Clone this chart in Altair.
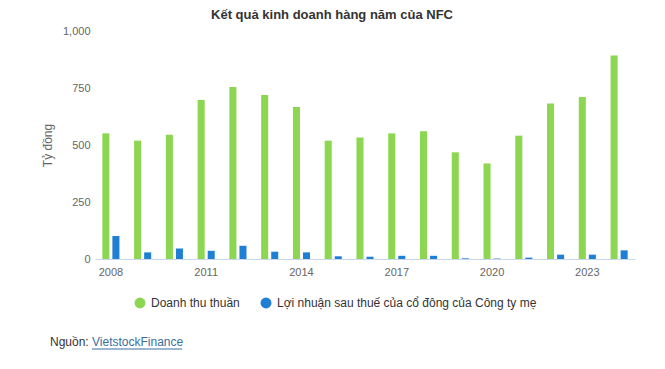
import altair as alt
import pandas as pd

years = list(range(2008, 2025))
doanh_thu = [551, 519, 545, 697, 754, 719, 667, 519, 533, 551, 560, 468, 419, 541, 682, 710, 893]
loi_nhuan = [101, 29, 46, 36, 58, 32, 29, 12, 10, 14, 14, 3, 2, 6, 19, 19, 38]
series = ["Doanh thu thuần", "Lợi nhuận sau thuế của cổ đông của Công ty mẹ"]
colors = ["#8CD651", "#1F7FD4"]

rows = []
for y, a, b in zip(years, doanh_thu, loi_nhuan):
    rows.append({"Năm": str(y), "Chỉ tiêu": series[0], "Giá trị": a})
    rows.append({"Năm": str(y), "Chỉ tiêu": series[1], "Giá trị": b})
df = pd.DataFrame(rows)

FONT = "Liberation Sans"
W, H = 540, 228

bars = alt.Chart(df).mark_bar().encode(
    x=alt.X("Năm:N", sort=[str(y) for y in years],
            scale=alt.Scale(paddingInner=0, paddingOuter=0),
            axis=alt.Axis(title=None, labelAngle=0, ticks=False, domainColor="#CCD6EB",
                          labelColor="#666666", labelFontSize=11, labelFont=FONT, labelPadding=7,
                          labelExpr="(toNumber(datum.value) - 2008) % 3 == 0 ? datum.value : ''")),
    xOffset=alt.XOffset("Chỉ tiêu:N", sort=series,
                        scale=alt.Scale(paddingInner=0.3, paddingOuter=0.73)),
    y=alt.Y("Giá trị:Q", scale=alt.Scale(domain=[0, 1000], nice=False),
            axis=alt.Axis(title="Tỷ đồng", values=[0, 250, 500, 750, 1000], format=",.0f",
                          grid=False, domain=False, ticks=False, labelColor="#666666",
                          labelFontSize=11, labelFont=FONT, labelPadding=5,
                          titleColor="#666666", titleFontSize=12, titleFont=FONT,
                          titleFontWeight="normal", titlePadding=8)),
    color=alt.Color("Chỉ tiêu:N", sort=series,
                    scale=alt.Scale(domain=series, range=colors),
                    legend=alt.Legend(title=None, orient="none", direction="horizontal",
                                      legendX=39, legendY=266, symbolType="circle",
                                      symbolSize=120, symbolStrokeWidth=0,
                                      labelFontSize=12, labelFont=FONT, labelColor="#333333",
                                      columnPadding=20, labelOffset=5, padding=0,
                                      labelLimit=400)),
)

title_df = pd.DataFrame({"t": ["Kết quả kinh doanh hàng năm của NFC"]})
title = alt.Chart(title_df).mark_text(
    font=FONT, fontSize=13, fontWeight="bold", color="#333333", align="center", baseline="middle"
).encode(text="t:N", x=alt.value(237), y=alt.value(-16))

src1_df = pd.DataFrame({"t": ["Nguồn:"]})
src1 = alt.Chart(src1_df).mark_text(
    font=FONT, fontSize=12, color="#333333", align="left", baseline="middle"
).encode(text="t:N", x=alt.value(-45), y=alt.value(311))

src2_df = pd.DataFrame({"t": ["VietstockFinance"]})
src2 = alt.Chart(src2_df).mark_text(
    font=FONT, fontSize=12, color="#3A6F9E", align="left", baseline="middle"
).encode(text="t:N", x=alt.value(-3), y=alt.value(311))

underline = alt.Chart(src2_df).mark_rule(color="#3A6F9E", strokeWidth=1).encode(
    x=alt.value(-3), x2=alt.value(87), y=alt.value(318))

chart = alt.layer(bars, title, src1, src2, underline).properties(
    width=W, height=H,
    padding={"left": 95, "top": 31, "right": 30, "bottom": 110},
    autosize=alt.AutoSizeParams(type="none"),
).configure_view(stroke=None)

chart.save("out.html", embed_options={"renderer": "svg", "actions": False})
